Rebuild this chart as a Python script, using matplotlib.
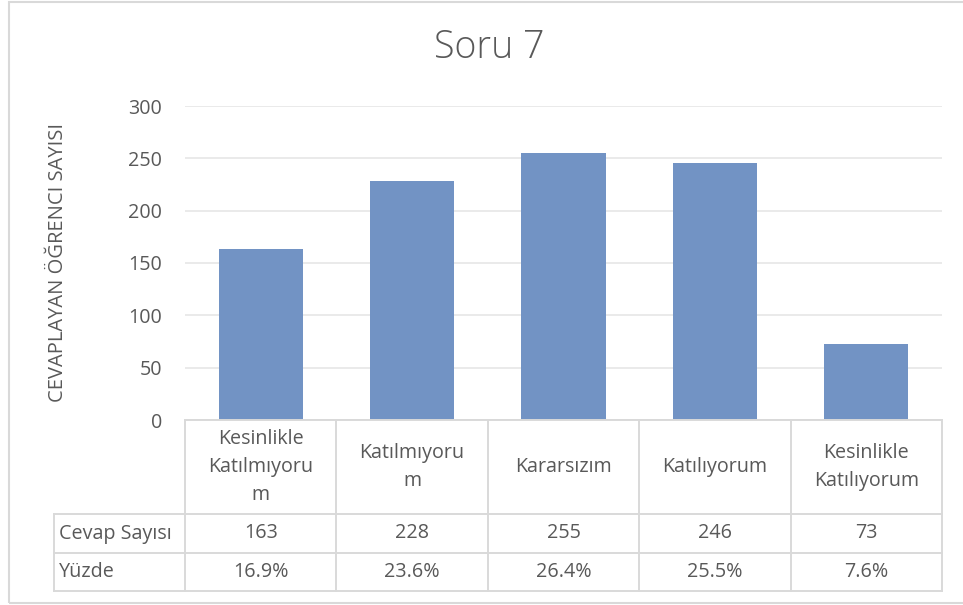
import matplotlib
matplotlib.use("Agg")
import matplotlib.pyplot as plt
import matplotlib.transforms as mtransforms
from matplotlib.lines import Line2D
from matplotlib.patches import Rectangle

categories = ["Kesinlikle\nKatılmıyoru\nm", "Katılmıyoru\nm", "Kararsızım", "Katılıyorum", "Kesinlikle\nKatılıyorum"]
counts = [163, 228, 255, 246, 73]
percents = ["16.9%", "23.6%", "26.4%", "25.5%", "7.6%"]
row_labels = ["Cevap Sayısı", "Yüzde"]
yticks = [0, 50, 100, 150, 200, 250, 300]

W, H = 963, 605
plt.rcParams['font.family'] = ['Open Sans', 'DejaVu Sans']
TXT = "#595959"
GRID = "#E6E6E6"
TGRID = "#D9D9D9"
BAR = "#7293C4"
FS = 14.2

fig = plt.figure(figsize=(W / 100, H / 100), dpi=100)

def fx(x):
    return x / W

def fy(y):
    return 1 - y / H

# outer chart border
fig.patches.append(Rectangle((fx(8.5), fy(603)), fx(980) - fx(8.5), fy(1.5) - fy(603),
                             transform=fig.transFigure, fill=False, edgecolor=TGRID, lw=1.5))

left, right, top, bottom = 185, 942, 106, 420
ax = fig.add_axes([fx(left), fy(bottom), fx(right) - fx(left), fy(top) - fy(bottom)])
x = list(range(len(counts)))
ax.bar(x, counts, width=0.555, color=BAR, zorder=2)
ax.set_xlim(-0.5, len(counts) - 0.5)
ax.set_ylim(0, 300)
ax.set_yticks(yticks)
ax.set_yticklabels([str(t) for t in yticks], fontsize=FS, color=TXT)
ax.tick_params(axis='y', length=0, pad=16.5)
ax.set_xticks([])
for s in ax.spines.values():
    s.set_visible(False)
ax.grid(axis='y', color=GRID, lw=1.2, zorder=0)
ax.set_axisbelow(True)

fig.text(fx(58), fy(262), "CEVAPLAYAN ÖĞRENCI SAYISI", rotation=90, ha='center', va='center',
         fontsize=14.5, color=TXT)
fig.text(fx(489), fy(48), "Soru 7", ha='center', va='center', fontsize=27, color=TXT, fontweight='light')

# data table
tr = mtransforms.blended_transform_factory(ax.transData, fig.transFigure)
y_head_top, y_r1, y_r2, y_end = 420, 514, 553, 591
x_lab_left = -0.5 - (left - 54) / ((right - left) / len(counts))

def hline(x0, x1, y):
    ax.add_line(Line2D([x0, x1], [fy(y), fy(y)], transform=tr, color=TGRID, lw=1.4, clip_on=False))

def vline(xv, y0, y1):
    ax.add_line(Line2D([xv, xv], [fy(y0), fy(y1)], transform=tr, color=TGRID, lw=1.4, clip_on=False))

n = len(counts)
hline(-0.5, n - 0.5, y_head_top)
for yy in (y_r1, y_r2, y_end):
    hline(x_lab_left, n - 0.5, yy)
for i in range(n + 1):
    vline(i - 0.5, y_head_top, y_end)
vline(x_lab_left, y_r1, y_end)

for i, cat in enumerate(categories):
    ax.text(i, fy((y_head_top + y_r1) / 2), cat, transform=tr, ha='center', va='center',
            fontsize=FS, color=TXT, linespacing=1.5)
    ax.text(i, fy((y_r1 + y_r2) / 2), str(counts[i]), transform=tr, ha='center', va='center',
            fontsize=FS, color=TXT)
    ax.text(i, fy((y_r2 + y_end) / 2), percents[i], transform=tr, ha='center', va='center',
            fontsize=FS, color=TXT)

for lab, (ya, yb) in zip(row_labels, [(y_r1, y_r2), (y_r2, y_end)]):
    fig.text(fx(59), fy((ya + yb) / 2), lab, ha='left', va='center', fontsize=FS, color=TXT)

fig.savefig("out.png", dpi=100)
